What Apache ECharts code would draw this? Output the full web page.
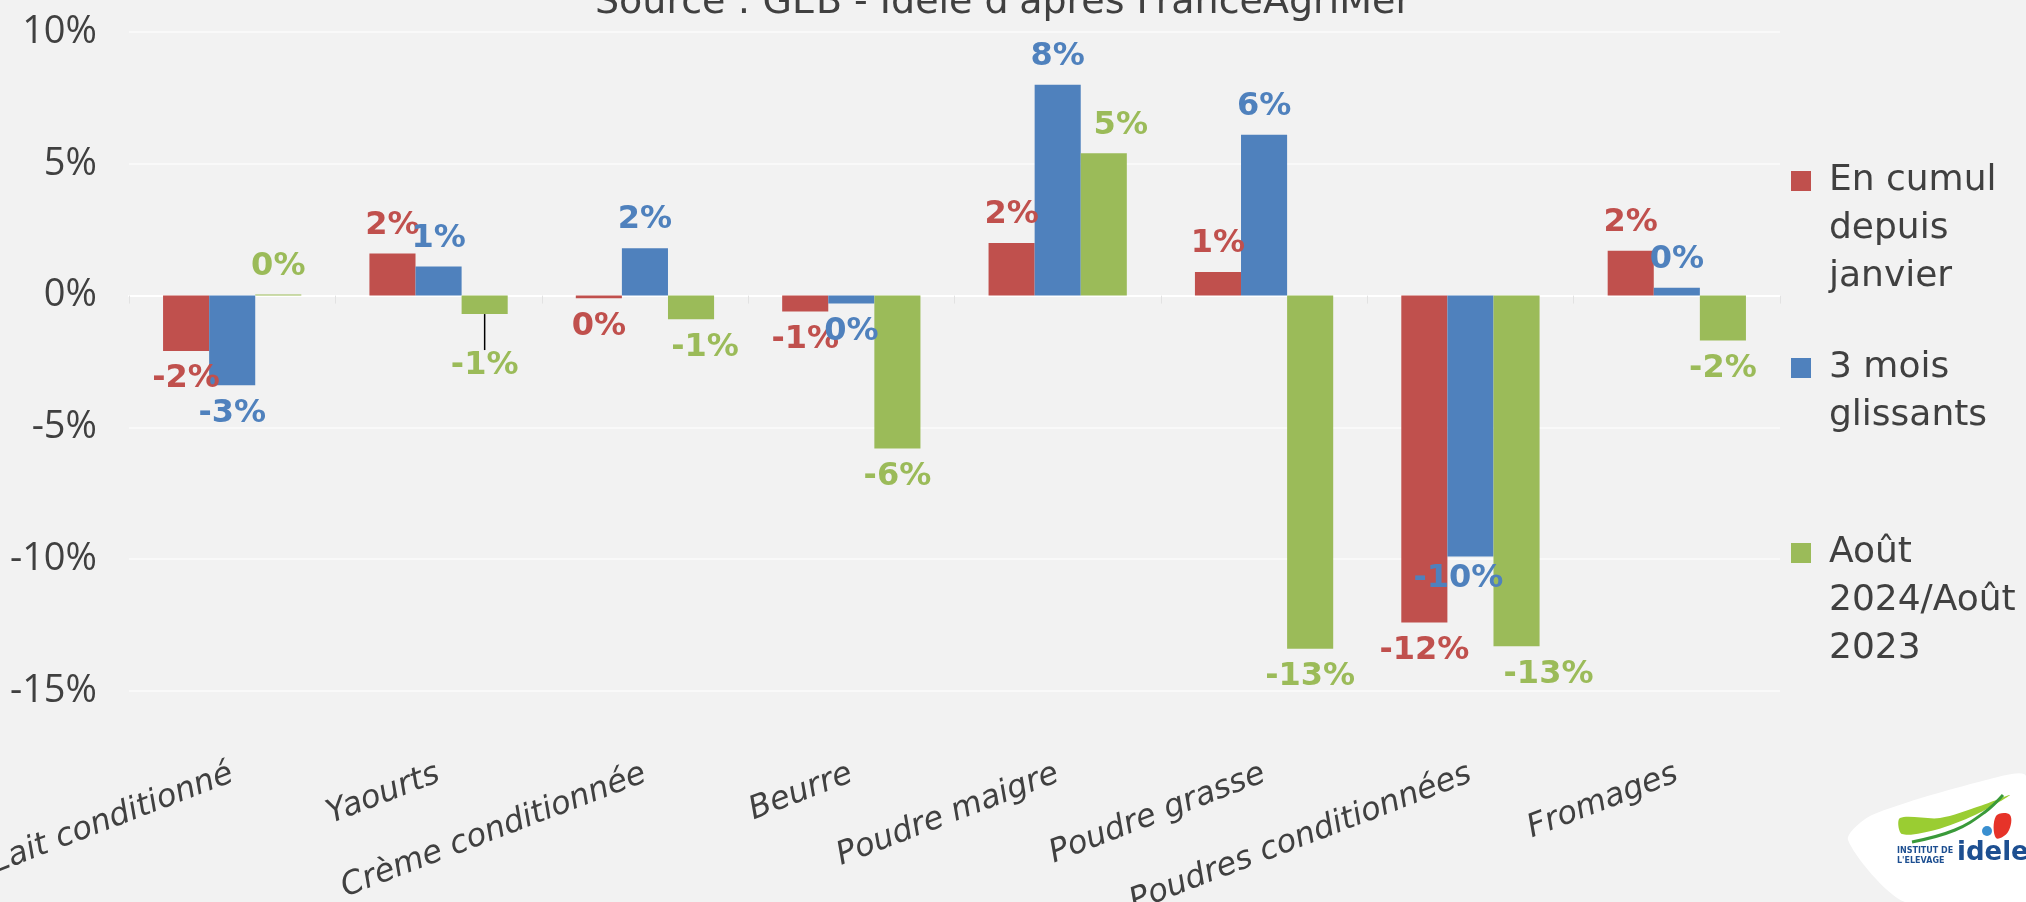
<!DOCTYPE html>
<html>
<head>
<meta charset="utf-8">
<script src="https://cdn.jsdelivr.net/npm/echarts@6/dist/echarts.min.js"></script>
<style>
html,body{margin:0;padding:0;background:#f2f2f2;}
#chart{width:2026px;height:902px;}
</style>
</head>
<body>
<div id="chart"></div>
<script>
// ---- data ----
const categories = ['Lait conditionné', 'Yaourts', 'Crème conditionnée', 'Beurre', 'Poudre maigre', 'Poudre grasse', 'Poudres conditionnées', 'Fromages'];
const seriesNames = ['En cumul\ndepuis\njanvier', '3 mois\nglissants', 'Août\n2024/Août\n2023'];
const cumul = [-2.1, 1.6, -0.1, -0.6, 2.0, 0.9, -12.4, 1.7];
const glissants = [-3.4, 1.1, 1.8, -0.3, 8.0, 6.1, -9.9, 0.3];
const aout = [0.04, -0.7, -0.9, -5.8, 5.4, -13.4, -13.3, -1.7];
const yTicks = [-15, -10, -5, 0, 5, 10];
const sourceText = "Source : GEB - Idele d'après FranceAgriMer";

// ---- style ----
const colors = ['#C0504D', '#4F81BD', '#9BBB59'];
const FONT = '"Open Sans", "DejaVu Sans", sans-serif';
const WIDE = '"DejaVu Sans", sans-serif';
const TXT = '#404040';
// manual label nudges (series index -> data index -> [dx, dy])
const labelNudge = {
  1: {6: [-12, -6]},
  2: {1: [0, 24], 2: [14, 0], 4: [17, 0], 6: [32, 0]}
};
const leaderLines = {2: [1]};

const fmt = p => {
  const r = Math.round(p.value);
  return (r === 0 ? '0' : String(r)) + '%';
};

function makeSeries(idx, values) {
  return {
    name: seriesNames[idx],
    type: 'bar',
    barGap: '0%',
    barCategoryGap: '33%',
    itemStyle: {color: colors[idx]},
    data: values.map((v, i) => {
      const item = {value: v};
      if (leaderLines[idx] && leaderLines[idx].indexOf(i) >= 0) {
        item.labelLine = {show: true, lineStyle: {color: '#000', width: 1.5}};
      }
      return item;
    }),
    label: {
      show: true,
      position: 'outside',
      distance: 12,
      formatter: fmt,
      color: colors[idx],
      fontFamily: WIDE,
      fontWeight: 'bold',
      fontSize: 32
    },
    labelLine: {show: false},
    labelLayout: function (params) {
      const n = labelNudge[idx] && labelNudge[idx][params.dataIndex];
      if (n) return {dx: n[0], dy: n[1]};
      return {};
    },
    emphasis: {disabled: true},
    animation: false
  };
}

const chart = echarts.init(document.getElementById('chart'), null, {renderer: 'canvas'});

// prepend blank lines so the legend square lines up with the first text line
const legendFormatter = name => {
  const n = name.split('\n').length;
  return '\n'.repeat(n - 1) + name;
};

const legendBase = {
  orient: 'vertical',
  left: 1786,
  icon: 'rect',
  itemWidth: 20,
  itemHeight: 20,
  selectedMode: false,
  formatter: legendFormatter,
  textStyle: {color: TXT, fontFamily: WIDE, fontSize: 36, lineHeight: 48, padding: [0, 0, 0, 13]}
};

const option = {
  backgroundColor: '#f2f2f2',
  animation: false,
  grid: {left: 129, right: 246, top: 32, bottom: 211, containLabel: false, outerBoundsMode: 'none'},
  legend: [
    Object.assign({}, legendBase, {data: [seriesNames[0]], top: 56}),
    Object.assign({}, legendBase, {data: [seriesNames[1]], top: 291}),
    Object.assign({}, legendBase, {data: [seriesNames[2]], top: 428})
  ],
  xAxis: [
    {
      type: 'category',
      data: categories,
      position: 'bottom',
      axisLine: {show: false, onZero: false},
      axisTick: {show: false},
      axisLabel: {
        rotate: 21,
        margin: 82,
        interval: 0,
        color: TXT,
        fontFamily: WIDE,
        fontStyle: 'italic',
        fontSize: 32
      }
    },
    {
      type: 'category',
      data: categories,
      position: 'bottom',
      axisLine: {show: true, onZero: true, lineStyle: {color: '#ffffff', width: 2}},
      axisTick: {show: true, length: 8, lineStyle: {color: '#e2e2e2'}},
      axisLabel: {show: false}
    }
  ],
  yAxis: {
    type: 'value',
    min: yTicks[0],
    max: yTicks[yTicks.length - 1],
    interval: 5,
    axisLine: {show: false},
    axisTick: {show: false},
    splitLine: {show: true, lineStyle: {color: '#fbfbfb', width: 1.5}},
    axisLabel: {
      margin: 32,
      color: TXT,
      fontFamily: FONT,
      fontSize: 38,
      formatter: v => v + '%'
    }
  },
  series: [
    makeSeries(0, cumul),
    makeSeries(1, glissants),
    makeSeries(2, aout)
  ],
  graphic: [
    {
      type: 'text',
      x: 1003, y: 22, z: 10,
      style: {
        text: sourceText,
        x: 0, y: 0,
        fill: TXT,
        font: '38px ' + WIDE,
        textAlign: 'center',
        textVerticalAlign: 'bottom'
      }
    },
    // logo (approximation)
    {
      type: 'polygon',
      shape: {points: [[1848, 840], [1872, 815], [1990, 779], [2026, 776], [2026, 902], [1905, 902]], smooth: 0.25},
      style: {fill: '#ffffff'}
    },
    {
      type: 'polygon',
      shape: {points: [[1900, 818], [1940, 818], [1980, 806], [2010, 795], [1975, 815], [1935, 830], [1902, 834]], smooth: 0.3},
      style: {fill: '#9acd32'}
    },
    {
      type: 'polyline',
      shape: {points: [[1912, 842], [1955, 830], [1985, 812], [2003, 795]], smooth: 0.4},
      style: {stroke: '#3a9a3a', lineWidth: 3, fill: null}
    },
    {
      type: 'polygon',
      shape: {points: [[1996, 816], [2010, 815], [2008, 832], [1996, 838]], smooth: 0.4},
      style: {fill: '#e63329'}
    },
    {
      type: 'circle',
      shape: {cx: 1987, cy: 831, r: 5},
      style: {fill: '#3a8fd0'}
    },
    {
      type: 'text',
      style: {x: 1897, y: 846, text: 'INSTITUT DE\nL\'ELEVAGE', fill: '#1d4f91', font: 'bold 8px "DejaVu Sans", sans-serif', lineHeight: 10}
    },
    {
      type: 'text',
      style: {x: 1957, y: 840, text: 'idele', fill: '#1d4f91', font: 'bold 26px "DejaVu Sans", sans-serif'}
    }
  ]
};

chart.setOption(option);
</script>
</body>
</html>
